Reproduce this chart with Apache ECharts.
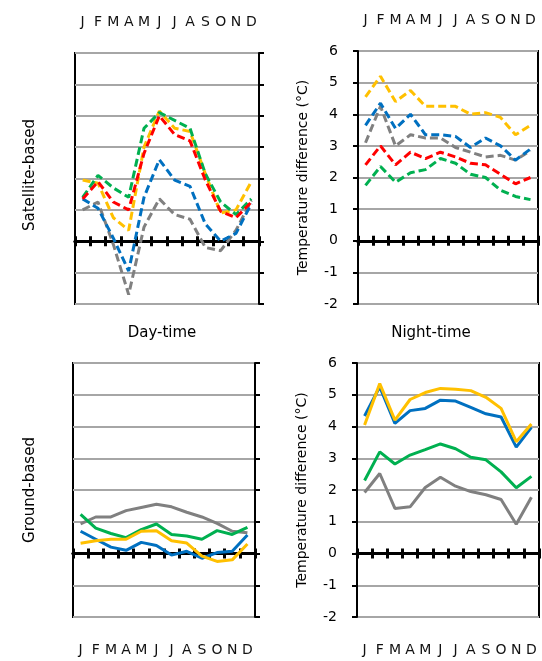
<!DOCTYPE html>
<html>
<head>
<meta charset="utf-8">
<script src="https://cdn.jsdelivr.net/npm/echarts@6/dist/echarts.min.js"></script>
<style>
html, body { margin: 0; padding: 0; background: #fff; }
#chart { width: 542px; height: 661px; }
</style>
</head>
<body>
<div id="chart"></div>
<script>
var months = ["J", "F", "M", "A", "M", "J", "J", "A", "S", "O", "N", "D"];
var yTicks = { min: -2, max: 6, interval: 1 };

// 卫星 白天
var satDayGray   = [1.0, 1.25, -0.1, -1.7, 0.45, 1.35, 0.85, 0.7, -0.2, -0.3, 0.35, 1.3];
var satDayBlue   = [1.35, 1.05, 0.1, -0.95, 1.4, 2.6, 1.95, 1.75, 0.55, 0.0, 0.25, 1.2];
var satDayYellow = [1.95, 1.85, 0.75, 0.35, 3.0, 4.15, 3.6, 3.5, 2.15, 0.9, 1.0, 1.9];
var satDayGreen  = [1.4, 2.1, 1.7, 1.4, 3.6, 4.1, 3.85, 3.6, 2.15, 1.25, 0.85, 1.35];
var satDayRed    = [1.35, 1.9, 1.25, 1.0, 2.8, 4.0, 3.4, 3.2, 1.95, 0.95, 0.75, 1.25];

// 卫星 夜间
var satNightYellow = [4.55, 5.2, 4.4, 4.75, 4.25, 4.25, 4.25, 4.0, 4.05, 3.9, 3.35, 3.65];
var satNightBlue   = [3.65, 4.35, 3.55, 4.0, 3.35, 3.35, 3.3, 2.95, 3.25, 3.0, 2.55, 2.9];
var satNightGray   = [3.1, 4.25, 3.0, 3.35, 3.25, 3.25, 2.95, 2.8, 2.65, 2.7, 2.55, 2.85];
var satNightRed    = [2.4, 3.0, 2.4, 2.8, 2.6, 2.8, 2.65, 2.45, 2.4, 2.1, 1.8, 2.0];
var satNightGreen  = [1.75, 2.35, 1.85, 2.15, 2.25, 2.6, 2.45, 2.1, 2.0, 1.6, 1.4, 1.3];

// 地面 白天
var grdDayGray   = [0.93, 1.15, 1.15, 1.35, 1.45, 1.55, 1.47, 1.3, 1.15, 0.95, 0.7, 0.65];
var grdDayGreen  = [1.23, 0.8, 0.63, 0.5, 0.75, 0.93, 0.6, 0.55, 0.45, 0.72, 0.6, 0.82];
var grdDayBlue   = [0.7, 0.45, 0.2, 0.1, 0.35, 0.25, -0.05, 0.07, -0.15, 0.03, 0.07, 0.58];
var grdDayYellow = [0.32, 0.4, 0.45, 0.45, 0.7, 0.72, 0.4, 0.33, -0.08, -0.25, -0.2, 0.3];

// 地面 夜间
var grdNightGray   = [1.92, 2.52, 1.42, 1.47, 2.08, 2.4, 2.12, 1.95, 1.85, 1.7, 0.92, 1.77];
var grdNightGreen  = [2.3, 3.2, 2.82, 3.1, 3.27, 3.45, 3.3, 3.03, 2.95, 2.57, 2.07, 2.43];
var grdNightBlue   = [4.33, 5.25, 4.1, 4.5, 4.57, 4.83, 4.8, 4.6, 4.4, 4.3, 3.35, 3.97];
var grdNightYellow = [4.05, 5.35, 4.2, 4.85, 5.07, 5.2, 5.17, 5.13, 4.92, 4.57, 3.52, 4.08];

var BLUE = "#0070C0", YELLOW = "#FFC000", GRAY = "#808080", GREEN = "#00B050", RED = "#FF0000";
var FONT = "DejaVu Sans";
var yName = "Temperature difference (°C)";

// 四个面板的位置
var panels = [
    { left: 75, top: 53, width: 184, height: 251, side: "right", labelPos: "top", labelMargin: 24 },
    { left: 358, top: 51, width: 180, height: 253, side: "left", labelPos: "top", labelMargin: 24 },
    { left: 73, top: 363, width: 182, height: 254, side: "right", labelPos: "bottom", labelMargin: 26 },
    { left: 357, top: 363, width: 182, height: 254, side: "left", labelPos: "bottom", labelMargin: 26 }
];

var grids = [], xAxes = [], yAxes = [], series = [];

for (var g = 0; g < panels.length; g++) {
    var p = panels[g];
    grids.push({
        left: p.left, top: p.top, width: p.width, height: p.height,
        show: true, borderColor: "#000", borderWidth: 2, backgroundColor: "transparent"
    });
    // 零线刻度 (上下两半)
    for (var k = 0; k < 2; k++) {
        xAxes.push({
            type: "category", gridIndex: g, data: months, position: "bottom",
            axisLine: { show: true, onZero: true, onZeroAxisIndex: g, lineStyle: { color: "#000", width: 3 } },
            axisTick: { show: true, inside: k == 1, length: 5, interval: 0, lineStyle: { color: "#000", width: 3 } },
            axisLabel: { show: false },
            splitLine: { show: false }
        });
    }
    // 月份标签
    xAxes.push({
        type: "category", gridIndex: g, data: months, position: p.labelPos,
        axisLine: { show: false, onZero: false },
        axisTick: { show: false },
        axisLabel: { show: true, interval: 0, margin: p.labelMargin, fontFamily: FONT, fontSize: 14, color: "#111" },
        splitLine: { show: false }
    });
    var isRight = p.side == "right";
    yAxes.push({
        type: "value", gridIndex: g, position: p.side,
        min: yTicks.min, max: yTicks.max, interval: yTicks.interval,
        axisLine: { show: true, lineStyle: { color: "#000", width: 2 } },
        axisTick: { show: true, length: 5, lineStyle: { color: "#000", width: 2 } },
        axisLabel: { show: !isRight, margin: 20, fontFamily: FONT, fontSize: 14, color: "#000" },
        splitLine: { show: true, lineStyle: { color: "#A6A6A6", width: 2 } },
        name: isRight ? "" : yName,
        nameLocation: "middle",
        nameGap: 48,
        nameTextStyle: { fontFamily: FONT, fontSize: 14, color: "#000" }
    });
}

function addLine(g, data, color, dashed) {
    series.push({
        type: "line", xAxisIndex: g * 3, yAxisIndex: g, data: data,
        symbol: "none", smooth: false,
        lineStyle: { color: color, width: 3, type: dashed ? [8, 4] : "solid" },
        silent: true
    });
}

addLine(0, satDayGray, GRAY, true);
addLine(0, satDayBlue, BLUE, true);
addLine(0, satDayYellow, YELLOW, true);
addLine(0, satDayGreen, GREEN, true);
addLine(0, satDayRed, RED, true);

addLine(1, satNightGray, GRAY, true);
addLine(1, satNightGreen, GREEN, true);
addLine(1, satNightRed, RED, true);
addLine(1, satNightBlue, BLUE, true);
addLine(1, satNightYellow, YELLOW, true);

addLine(2, grdDayGray, GRAY, false);
addLine(2, grdDayGreen, GREEN, false);
addLine(2, grdDayBlue, BLUE, false);
addLine(2, grdDayYellow, YELLOW, false);

addLine(3, grdNightGray, GRAY, false);
addLine(3, grdNightGreen, GREEN, false);
addLine(3, grdNightBlue, BLUE, false);
addLine(3, grdNightYellow, YELLOW, false);

var textStyle = { fontFamily: FONT, fontSize: 15, fill: "#000", textAlign: "center", textVerticalAlign: "middle" };

var chart = echarts.init(document.getElementById("chart"), null, { renderer: "canvas" });
chart.setOption({
    animation: false,
    backgroundColor: "#fff",
    grid: grids,
    xAxis: xAxes,
    yAxis: yAxes,
    series: series,
    graphic: [
        { type: "text", x: 30, y: 175, rotation: Math.PI / 2, style: Object.assign({ text: "Satellite-based" }, textStyle) },
        { type: "text", x: 30, y: 490, rotation: Math.PI / 2, style: Object.assign({ text: "Ground-based" }, textStyle) },
        { type: "text", x: 162, y: 333, style: Object.assign({ text: "Day-time" }, textStyle) },
        { type: "text", x: 431, y: 333, style: Object.assign({ text: "Night-time" }, textStyle) }
    ]
});
</script>
</body>
</html>
